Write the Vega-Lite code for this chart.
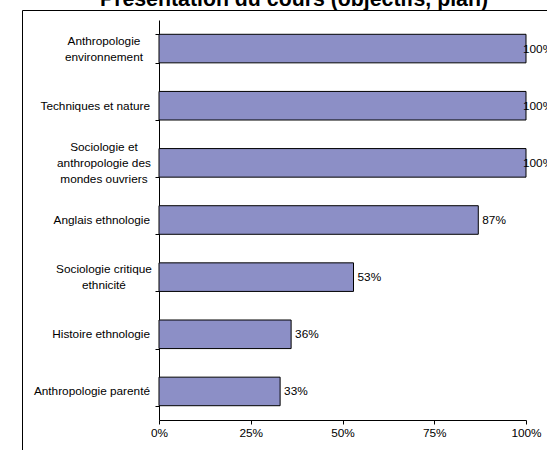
{
  "$schema": "https://vega.github.io/schema/vega-lite/v6.json",
  "autosize": {"type": "none"},
  "padding": {"left": 22, "top": 10, "right": 0, "bottom": 0},
  "width": 530,
  "height": 450,
  "title": {
    "text": "Présentation du cours (objectifs, plan)",
    "font": "Liberation Sans",
    "fontSize": 21.3,
    "fontWeight": "bold",
    "color": "#000",
    "anchor": "middle",
    "frame": "group",
    "baseline": "alphabetic",
    "offset": -17,
    "dx": 7
  },
  "data": {
    "values": [
      {"cours": "Anthropologie environnement", "lignes": ["Anthropologie", "environnement"], "n": 2, "taux": 1.0},
      {"cours": "Techniques et nature", "lignes": ["Techniques et nature"], "n": 1, "taux": 1.0},
      {"cours": "Sociologie et anthropologie des mondes ouvriers", "lignes": ["Sociologie et", "anthropologie des", "mondes ouvriers"], "n": 3, "taux": 1.0},
      {"cours": "Anglais ethnologie", "lignes": ["Anglais ethnologie"], "n": 1, "taux": 0.87},
      {"cours": "Sociologie critique ethnicité", "lignes": ["Sociologie critique", "ethnicité"], "n": 2, "taux": 0.53},
      {"cours": "Histoire ethnologie", "lignes": ["Histoire ethnologie"], "n": 1, "taux": 0.36},
      {"cours": "Anthropologie parenté", "lignes": ["Anthropologie parenté"], "n": 1, "taux": 0.33}
    ]
  },
  "encoding": {
    "y": {
      "field": "cours",
      "type": "nominal",
      "sort": null,
      "scale": {"range": [10, 410], "paddingInner": 0.5, "paddingOuter": 0.25},
      "axis": {
        "title": null,
        "offset": -137,
        "tickBand": "extent",
        "tickSize": 4,
        "tickColor": "#000",
        "domainColor": "#000",
        "labels": false
      }
    }
  },
  "layer": [
    {
      "mark": {"type": "bar", "fill": "#8C8FC6", "stroke": "#000", "strokeWidth": 1},
      "encoding": {
        "x": {
          "field": "taux",
          "type": "quantitative",
          "scale": {"domain": [0, 1], "range": [137, 504], "nice": false},
          "axis": {
            "title": null,
            "orient": "bottom",
            "offset": -40,
            "values": [0, 0.25, 0.5, 0.75, 1],
            "format": ".0%",
            "grid": false,
            "tickSize": 4,
            "tickColor": "#000",
            "domainColor": "#000",
            "labelFlush": false,
            "labelFont": "Liberation Sans",
            "labelFontSize": 11.8,
            "labelColor": "#000",
            "labelPadding": 3
          }
        }
      }
    },
    {
      "transform": [{"filter": "datum.taux < 1"}],
      "mark": {"type": "text", "align": "left", "baseline": "middle", "dx": 4, "font": "Liberation Sans", "fontSize": 11.8, "color": "#000"},
      "encoding": {
        "x": {"field": "taux", "type": "quantitative"},
        "text": {"field": "taux", "type": "quantitative", "format": ".0%"}
      }
    },
    {
      "transform": [{"filter": "datum.taux >= 1"}],
      "mark": {"type": "text", "align": "left", "baseline": "middle", "dx": -3, "font": "Liberation Sans", "fontSize": 11.8, "color": "#000"},
      "encoding": {
        "x": {"field": "taux", "type": "quantitative"},
        "text": {"field": "taux", "type": "quantitative", "format": ".0%"}
      }
    },
    {
      "transform": [{"filter": "datum.n == 1"}],
      "mark": {"type": "text", "align": "right", "baseline": "middle", "font": "Liberation Sans", "fontSize": 11.8, "color": "#000"},
      "encoding": {
        "x": {"datum": -0.0245, "type": "quantitative"},
        "text": {"field": "lignes", "type": "nominal"}
      }
    },
    {
      "transform": [{"filter": "datum.n == 2"}],
      "mark": {"type": "text", "align": "center", "baseline": "middle", "dy": -8, "lineHeight": 16, "font": "Liberation Sans", "fontSize": 11.8, "color": "#000"},
      "encoding": {
        "x": {"datum": -0.15, "type": "quantitative"},
        "text": {"field": "lignes", "type": "nominal"}
      }
    },
    {
      "transform": [{"filter": "datum.n == 3"}],
      "mark": {"type": "text", "align": "center", "baseline": "middle", "dy": -16, "lineHeight": 16, "font": "Liberation Sans", "fontSize": 11.8, "color": "#000"},
      "encoding": {
        "x": {"datum": -0.15, "type": "quantitative"},
        "text": {"field": "lignes", "type": "nominal"}
      }
    }
  ],
  "config": {
    "view": {"stroke": "#000", "strokeWidth": 1},
    "background": "white"
  }
}
